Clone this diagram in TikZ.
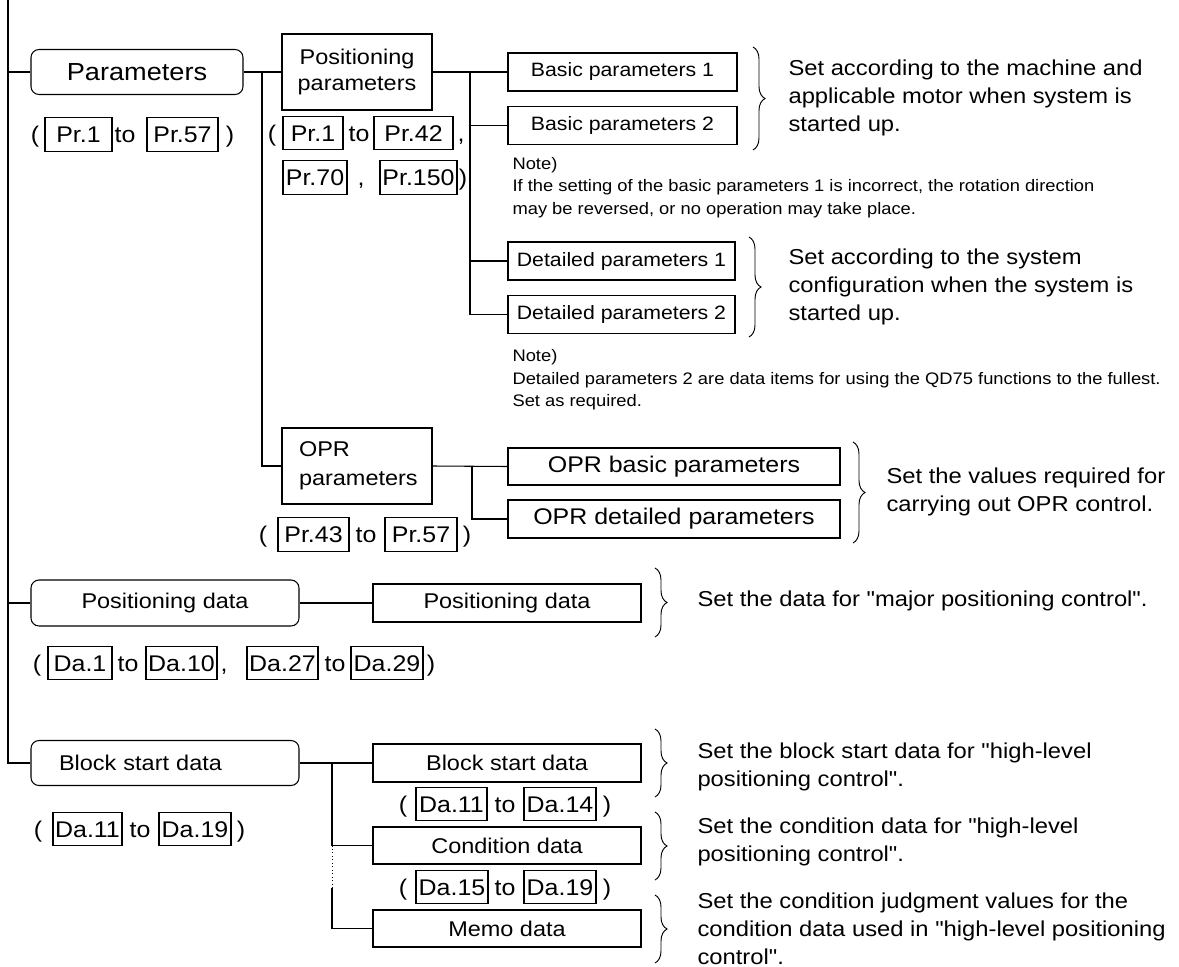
\documentclass[tikz,border=0pt]{standalone}
\usepackage{fontspec}
\setmainfont{Liberation Sans}[FakeStretch=1.1, Ligatures=TeXOff]
\usetikzlibrary{decorations.pathreplacing}
\tikzset{
  sz/.style 2 args={minimum width={#1*0.75pt}, minimum height={#2*0.75pt}},
  rbox/.style={draw, rounded corners=6pt, inner sep=0pt},
  sbox/.style={draw, inner sep=0pt},
  lb/.style={draw, inner sep=0pt, minimum height=25pt, text height=12.2pt, text depth=0pt, font=\fontsize{17}{18}\selectfont},
  tx/.style={inner sep=0pt, text height=12.2pt, text depth=0pt, font=\fontsize{17}{18}\selectfont},
  brc/.style={decorate, decoration={brace, amplitude=9pt}, line width=0.7pt},
  bt/.style={anchor=west, align=left, inner sep=0pt, font=\fontsize{16.2}{21}\selectfont},
  nt/.style={anchor=west, align=left, inner sep=0pt, font=\fontsize{12.5}{16.9}\selectfont},
  bfont/.style={font=\fontsize{14.5}{17}\selectfont},
  ofont/.style={font=\fontsize{17}{20}\selectfont},
  mfont/.style={font=\fontsize{16}{19}\selectfont},
}
\newcommand\labx[5]{\node[lb, minimum width={(#3-#2)*0.75pt}] (#1) at ({(#2+#3)/2},#4) {#5};}
\newcommand\txt[4]{\node[tx] (#1) at (#2,#3) {#4};}
\begin{document}
\begin{tikzpicture}[x=0.75pt,y=-0.75pt,line width=0.8pt]
\useasboundingbox (0,0) rectangle (1179,967);
\coordinate (top) at (8,0);
% main boxes
\node[rbox, sz={212}{45}, font=\fontsize{18.5}{20}\selectfont] (par) at (137,72) {Parameters};
\node[sbox, sz={150}{76}, align=center, font=\fontsize{16}{19.5}\selectfont] (pp) at (357,72) {Positioning\\parameters};
\node[sbox, sz={229}{38}, bfont] (bp1) at (622.5,72) {Basic parameters 1};
\node[sbox, sz={229}{38}, bfont] (bp2) at (622.5,125.5) {Basic parameters 2};
\node[sbox, sz={227}{38}, bfont] (dp1) at (621.5,261) {Detailed parameters 1};
\node[sbox, sz={227}{38}, bfont] (dp2) at (621.5,314.5) {Detailed parameters 2};
\node[sbox, sz={150}{76}, align=left, text width=87pt, inner xsep=12.75pt, font=\fontsize{16}{21.5}\selectfont] (opr) at (357,466) {OPR\\parameters};
\node[sbox, sz={332}{37}, ofont] (ob) at (674,466.5) {OPR basic parameters};
\node[sbox, sz={332}{38}, ofont] (od) at (674,519) {OPR detailed parameters};
\node[rbox, sz={268}{46}, mfont] (posd) at (165,603) {Positioning data};
\node[sbox, sz={268}{38}, mfont] (pdr) at (507,603) {Positioning data};
\node[rbox, sz={268}{45}, mfont, align=left, text width=159pt, inner xsep=21pt] (bsd) at (165,763) {Block start data};
\node[sbox, sz={268}{38}, mfont] (bsr) at (507,763) {Block start data};
\node[sbox, sz={268}{37}, mfont] (cdr) at (507,845.5) {Condition data};
\node[sbox, sz={268}{37}, mfont] (mem) at (507,928.5) {Memo data};
% connectors
\draw (top) -- (top |- bsd.west) -- (bsd.west);
\draw (top |- par.west) -- (par.west);
\draw (top |- posd.west) -- (posd.west);
\draw (par.east) -- (pp.west);
\coordinate (j1) at (262,72);
\draw (j1) |- (opr.west);
\draw (pp.east) -- (bp1.west);
\coordinate (j2) at (470,72);
\draw (j2) |- (dp2.west);
\draw (j2 |- bp2.west) -- (bp2.west);
\draw (j2 |- dp1.west) -- (dp1.west);
\draw (opr.east) -- (ob.west);
\coordinate (j3) at (472,466.5);
\draw (j3) |- (od.west);
\draw (posd.east) -- (pdr.west);
\draw (bsd.east) -- (bsr.west);
\coordinate (j4) at (332,763);
\draw (j4) |- (cdr.west);
\coordinate (j5) at (332,888);
\draw[dotted, line width=0.6pt] (j4 |- cdr.west) -- (j5);
\draw (j5) |- (mem.west);
% label rows
\txt{a0}{35}{134.5}{(} \labx{a1}{45}{112}{134.5}{Pr.1} \txt{a2}{125}{134.5}{to} \labx{a3}{147}{218}{134.5}{Pr.57} \txt{a4}{230}{134.5}{)}
\txt{b0}{272}{133}{(} \labx{b1}{283}{343}{133}{Pr.1} \txt{b2}{359}{133}{to} \labx{b3}{374}{453}{133}{Pr.42} \txt{b4}{461}{133}{,}
\labx{b5}{283}{347}{177.5}{Pr.70} \txt{b6}{361}{177.5}{,} \labx{b7}{380}{457}{177.5}{Pr.150} \txt{b8}{463}{177.5}{)}
\txt{c0}{263}{534.5}{(} \labx{c1}{278}{349}{534.5}{Pr.43} \txt{c2}{366}{534.5}{to} \labx{c3}{385}{457}{534.5}{Pr.57} \txt{c4}{467}{534.5}{)}
\txt{d0}{37}{663}{(} \labx{d1}{48}{112}{663}{Da.1} \txt{d2}{128}{663}{to} \labx{d3}{146}{217}{663}{Da.10} \txt{d4}{224}{663}{,}
\labx{d5}{247}{318}{663}{Da.27} \txt{d6}{335}{663}{to} \labx{d7}{351}{423}{663}{Da.29} \txt{d8}{431}{663}{)}
\txt{e0}{38}{829}{(} \labx{e1}{53}{122}{829}{Da.11} \txt{e2}{140}{829}{to} \labx{e3}{159}{231}{829}{Da.19} \txt{e4}{241}{829}{)}
\txt{f0}{403}{804}{(} \labx{f1}{416}{487}{804}{Da.11} \txt{f2}{505}{804}{to} \labx{f3}{524}{596}{804}{Da.14} \txt{f4}{607}{804}{)}
\txt{g0}{403}{887}{(} \labx{g1}{416}{488}{887}{Da.15} \txt{g2}{505}{887}{to} \labx{g3}{524}{596}{887}{Da.19} \txt{g4}{607}{887}{)}
% braces
\draw[brc] (753,47) -- (753,150);
\draw[brc] (749,237) -- (749,337);
\draw[brc] (853,442) -- (853,543);
\draw[brc] (655,568) -- (655,637);
\draw[brc] (655,729) -- (655,797);
\draw[brc] (655,812) -- (655,880);
\draw[brc] (655,895) -- (655,963);
% brace texts
\node[bt] (t1) at (788,98) {Set according to the machine and\\applicable motor when system is\\started up.};
\node[bt] (t2) at (788,287) {Set according to the system\\configuration when the system is\\started up.};
\node[bt] (t3) at (886,492) {Set the values required for\\carrying out OPR control.};
\node[bt] (t4) at (697,601) {Set the data for "major positioning control".};
\node[bt] (t5) at (697,767) {Set the block start data for "high-level\\positioning control".};
\node[bt] (t6) at (697,842) {Set the condition data for "high-level\\positioning control".};
\node[bt] (t7) at (697,928.5) {Set the condition judgment values for the\\condition data used in "high-level positioning\\control".};
% notes
\node[nt] (n1) at (512,187.5) {Note)\\If the setting of the basic parameters 1 is incorrect, the rotation direction\\may be reversed, or no operation may take place.};
\node[nt] (n2) at (512,380) {Note)\\Detailed parameters 2 are data items for using the QD75 functions to the fullest.\\Set as required.};
\end{tikzpicture}
\end{document}
